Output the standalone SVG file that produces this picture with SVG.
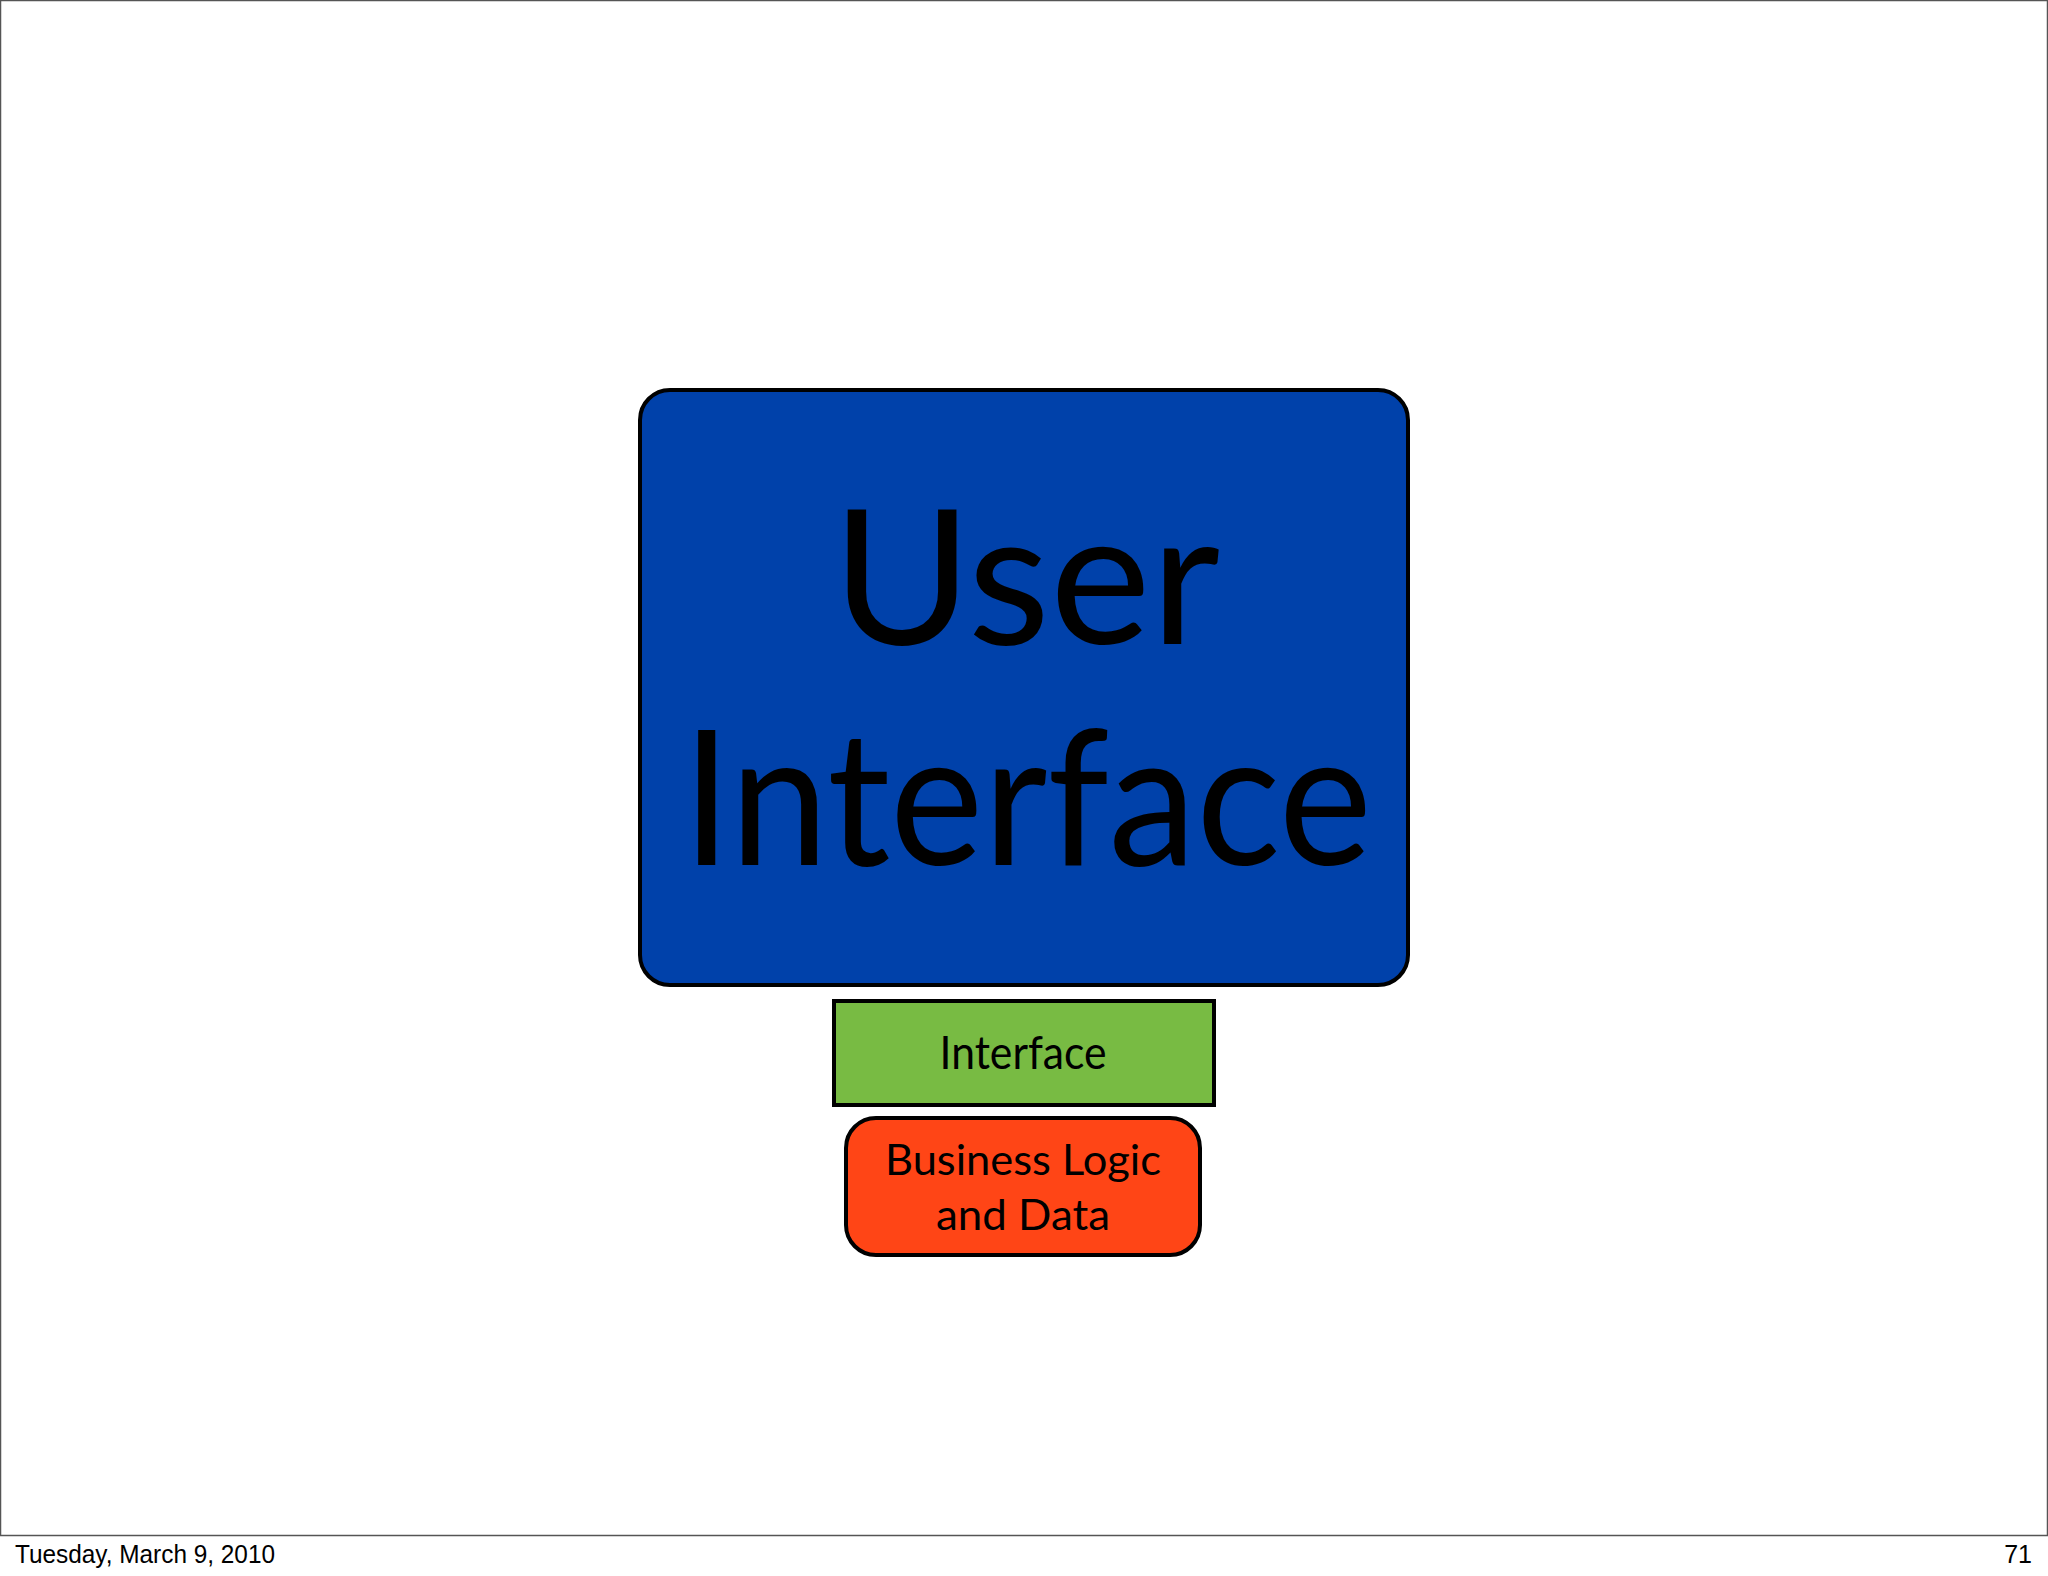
<svg xmlns="http://www.w3.org/2000/svg" width="2048" height="1576" viewBox="0 0 2048 1576">
<style>
.box{stroke:#000;stroke-width:4}
.lbl{font-family:Lato,"Open Sans","Liberation Sans",sans-serif;fill:#000;text-anchor:middle}
.foot{font-family:"Liberation Sans",Arial,sans-serif;font-size:25px;fill:#000}
</style>
<rect x="0" y="0" width="2048" height="1576" fill="#fff"/>
<rect x="0.5" y="0.5" width="2047" height="1535" fill="none" stroke="#555" stroke-width="1.5"/>
<g id="connectors"></g>
<g id="user-interface">
<rect class="box" x="640" y="390" width="768" height="595" rx="30" ry="30" fill="#0041AA"/>
<text class="lbl" x="1026" y="644" font-size="188" textLength="388" lengthAdjust="spacingAndGlyphs">User</text>
<text class="lbl" x="1027" y="865" font-size="188" textLength="690" lengthAdjust="spacingAndGlyphs">Interface</text>
</g>
<g id="interface">
<rect class="box" x="834" y="1001" width="380" height="104" fill="#78BB43"/>
<text class="lbl" x="1023" y="1069" font-size="46" textLength="167" lengthAdjust="spacingAndGlyphs">Interface</text>
</g>
<g id="business-logic">
<rect class="box" x="846" y="1118" width="354" height="137" rx="30" ry="30" fill="#FF4516"/>
<text class="lbl" x="1023" y="1175" font-size="42" textLength="276" lengthAdjust="spacingAndGlyphs">Business Logic</text>
<text class="lbl" x="1023" y="1230" font-size="42" textLength="174" lengthAdjust="spacingAndGlyphs">and Data</text>
</g>
<text class="foot" x="15" y="1563" textLength="260" lengthAdjust="spacingAndGlyphs">Tuesday, March 9, 2010</text>
<text class="foot" x="2032" y="1563" text-anchor="end">71</text>
</svg>
